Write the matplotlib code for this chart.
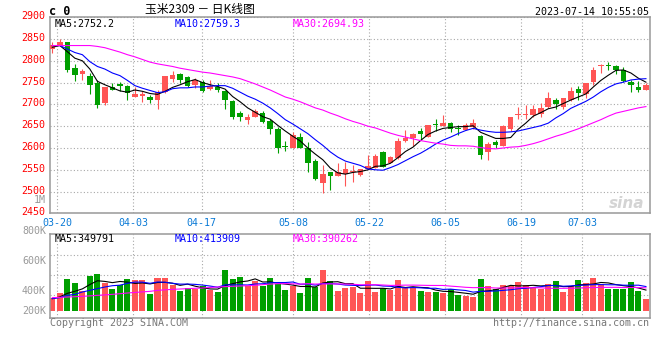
import matplotlib
matplotlib.use('Agg')
import matplotlib.pyplot as plt
import matplotlib.transforms as mtransforms
import numpy as np
import pandas as pd

plt.rcParams['font.family'] = ['DejaVu Sans Mono', 'Noto Sans CJK SC']

# trading days 03-17 .. 07-14 (exchange holidays removed)
holidays = ['2023-04-05', '2023-05-01', '2023-05-02', '2023-05-03', '2023-06-22', '2023-06-23']
days = pd.bdate_range('2023-03-17', '2023-07-14')
days = days[~days.isin(pd.to_datetime(holidays))]
day_labels = [d.strftime('%m-%d') for d in days]

opens = [2827, 2834, 2843, 2784, 2770, 2764, 2749, 2704, 2740, 2746,
         2743, 2717, 2719, 2717, 2710, 2728, 2759, 2770, 2762, 2745,
         2751, 2736, 2739, 2730, 2707, 2681, 2664, 2672, 2681, 2662,
         2643, 2604, 2601, 2626, 2601, 2570, 2520, 2545, 2536, 2540,
         2545, 2537, 2552, 2555, 2590, 2566, 2577, 2616, 2623, 2639,
         2626, 2654, 2651, 2657, 2647, 2642, 2649, 2628, 2590, 2614,
         2605, 2643, 2675, 2676, 2675, 2677, 2695, 2711, 2694, 2709,
         2736, 2724, 2752, 2787, 2790, 2789, 2778, 2751, 2740, 2733]
highs = [2844, 2851, 2843, 2793, 2782, 2772, 2755, 2741, 2749, 2751,
         2745, 2740, 2730, 2721, 2734, 2766, 2776, 2772, 2766, 2761,
         2757, 2755, 2749, 2733, 2711, 2686, 2677, 2690, 2686, 2667,
         2649, 2615, 2636, 2634, 2613, 2575, 2560, 2546, 2566, 2567,
         2560, 2552, 2584, 2586, 2592, 2581, 2623, 2641, 2634, 2645,
         2653, 2666, 2675, 2660, 2652, 2658, 2667, 2630, 2613, 2618,
         2652, 2672, 2695, 2698, 2698, 2704, 2728, 2715, 2715, 2740,
         2743, 2749, 2786, 2793, 2798, 2791, 2786, 2757, 2753, 2749]
lows = [2819, 2833, 2774, 2753, 2757, 2723, 2691, 2699, 2732, 2730,
        2711, 2716, 2706, 2704, 2689, 2727, 2751, 2749, 2739, 2738,
        2728, 2734, 2729, 2690, 2666, 2661, 2655, 2671, 2658, 2632,
        2589, 2594, 2600, 2600, 2546, 2526, 2497, 2503, 2535, 2513,
        2523, 2536, 2551, 2554, 2556, 2565, 2575, 2613, 2605, 2618,
        2625, 2638, 2650, 2636, 2630, 2641, 2643, 2575, 2573, 2601,
        2604, 2639, 2666, 2666, 2670, 2670, 2692, 2689, 2690, 2708,
        2710, 2715, 2745, 2772, 2778, 2770, 2751, 2729, 2728, 2732]
closes = [2836, 2842, 2778, 2767, 2776, 2744, 2698, 2739, 2734, 2742,
          2727, 2723, 2724, 2710, 2729, 2764, 2768, 2755, 2742, 2757,
          2730, 2742, 2734, 2711, 2671, 2671, 2672, 2686, 2660, 2643,
          2601, 2603, 2630, 2601, 2566, 2528, 2541, 2535, 2545, 2551,
          2547, 2551, 2558, 2582, 2556, 2580, 2616, 2624, 2632, 2633,
          2652, 2652, 2657, 2643, 2643, 2652, 2658, 2583, 2609, 2608,
          2651, 2670, 2677, 2677, 2689, 2691, 2715, 2700, 2714, 2730,
          2727, 2748, 2780, 2791, 2789, 2780, 2753, 2745, 2734, 2745]

ma5 = [2831, 2835, 2821, 2806, 2800, 2781, 2753, 2745, 2738, 2731,
       2728, 2733, 2730, 2725, 2723, 2730, 2739, 2745, 2752, 2757,
       2750, 2745, 2741, 2735, 2718, 2706, 2692, 2682, 2672, 2666,
       2652, 2639, 2627, 2616, 2600, 2586, 2573, 2554, 2543, 2540,
       2544, 2546, 2550, 2558, 2559, 2565, 2578, 2592, 2602, 2617,
       2631, 2639, 2645, 2647, 2649, 2649, 2651, 2636, 2629, 2622,
       2622, 2624, 2643, 2657, 2673, 2681, 2690, 2694, 2702, 2710,
       2717, 2724, 2740, 2755, 2767, 2778, 2779, 2772, 2760, 2751]
ma10 = [2835, 2835, 2827, 2819, 2814, 2798, 2787, 2781, 2772, 2766,
        2755, 2743, 2737, 2732, 2727, 2729, 2736, 2738, 2738, 2740,
        2740, 2742, 2743, 2743, 2737, 2728, 2719, 2712, 2703, 2692,
        2679, 2665, 2655, 2644, 2633, 2619, 2606, 2591, 2579, 2570,
        2565, 2560, 2552, 2550, 2549, 2555, 2562, 2571, 2580, 2588,
        2598, 2609, 2618, 2625, 2633, 2640, 2645, 2641, 2638, 2636,
        2636, 2637, 2639, 2643, 2647, 2651, 2657, 2669, 2679, 2691,
        2699, 2707, 2717, 2729, 2739, 2747, 2751, 2756, 2758, 2759]
ma30 = [2835, 2835, 2835, 2835, 2835, 2835, 2833, 2830, 2825, 2820,
        2814, 2809, 2803, 2797, 2793, 2790, 2787, 2783, 2780, 2777,
        2774, 2772, 2769, 2766, 2763, 2759, 2753, 2747, 2740, 2733,
        2725, 2717, 2712, 2706, 2699, 2692, 2687, 2680, 2674, 2667,
        2661, 2656, 2650, 2646, 2640, 2634, 2629, 2625, 2621, 2617,
        2614, 2611, 2609, 2606, 2605, 2605, 2604, 2601, 2599, 2598,
        2600, 2602, 2603, 2606, 2610, 2615, 2621, 2627, 2632, 2638,
        2644, 2651, 2658, 2665, 2673, 2680, 2684, 2688, 2692, 2695]

# volume in thousands
volumes = [227, 306, 538, 476, 334, 595, 629, 482, 368, 436,
           538, 521, 521, 283, 555, 555, 448, 340, 385, 380,
           419, 351, 323, 691, 538, 572, 425, 504, 425, 555,
           453, 351, 419, 306, 555, 408, 691, 504, 334, 385,
           408, 306, 504, 323, 391, 351, 521, 408, 391, 334,
           323, 323, 306, 368, 266, 249, 238, 538, 419, 368,
           436, 419, 487, 436, 408, 380, 453, 504, 323, 419,
           521, 476, 555, 453, 380, 380, 380, 487, 334, 198]
vol_ma5 = [210, 240, 300, 335, 376, 450, 514, 503, 482, 502,
           491, 469, 477, 460, 484, 487, 472, 436, 457, 422,
           394, 375, 372, 433, 464, 495, 510, 546, 493, 496,
           472, 458, 441, 417, 417, 408, 476, 493, 498, 464,
           464, 387, 387, 385, 386, 375, 418, 399, 412, 401,
           395, 356, 335, 331, 317, 302, 285, 332, 342, 362,
           400, 436, 426, 429, 437, 426, 433, 436, 414, 416,
           444, 449, 459, 485, 477, 449, 430, 416, 392, 356]
vol_ma10 = [210, 227, 266, 283, 323, 351, 380, 408, 430, 439,
            470, 492, 490, 471, 493, 489, 471, 457, 458, 453,
            441, 424, 404, 445, 443, 445, 442, 459, 463, 480,
            484, 484, 493, 455, 457, 440, 467, 467, 458, 441,
            436, 432, 440, 442, 425, 420, 403, 393, 399, 394,
            385, 387, 367, 372, 359, 349, 321, 334, 336, 340,
            351, 361, 379, 386, 400, 413, 434, 431, 421, 427,
            435, 441, 448, 449, 446, 446, 439, 437, 439, 416]
vol_ma30 = [227, 232, 238, 243, 249, 257, 266, 274, 283, 294,
            306, 315, 325, 334, 351, 360, 368, 374, 380, 386,
            391, 400, 408, 414, 420, 425, 430, 436, 448, 457,
            465, 466, 462, 457, 464, 458, 460, 461, 460, 458,
            454, 446, 446, 447, 442, 435, 437, 440, 440, 438,
            435, 434, 434, 423, 414, 403, 397, 398, 398, 391,
            391, 393, 395, 400, 395, 394, 386, 386, 386, 387,
            390, 396, 398, 402, 402, 403, 398, 401, 399, 394]

tick_dates = ['03-20', '04-03', '04-17', '05-08', '05-22', '06-05', '06-19', '07-03']
price_legend = ['MA5:2752.2', 'MA10:2759.3', 'MA30:2694.93']
vol_legend = ['MA5:349791', 'MA10:413909', 'MA30:390262']
vol_axis_labels = ['800K', '600K', '400K', '200K']

RED = '#ff5555'
GREEN = '#009f00'
GRID = '#a8a8a8'
FRAME = '#999999'
W, H = 660, 360

fig = plt.figure(figsize=(W / 100, H / 100), dpi=100)


def rect(l, t, r, b):
    return [l / W, 1 - b / H, (r - l) / W, (b - t) / H]


def ftext(x, y, s, **kw):
    kw.setdefault('va', 'center')
    kw.setdefault('fontsize', 7.2)
    fig.text(x / W, 1 - y / H, s, **kw)


n = len(closes)
x = np.arange(n)
o = np.array(opens)
c = np.array(closes)
colors = [RED if cc >= oo else GREEN for oo, cc in zip(o, c)]
# Sina grid lines are spaced slightly wider than the candles
tick_idx = [day_labels.index(d) for d in tick_dates]
grid_pos = [i * n / (n - 1) - 0.35 for i in tick_idx]
xlim = (-0.24, 79.54)

# ---- price panel
ax = fig.add_axes(rect(50.5, 17.2, 650, 213.4))
ax.set_xlim(*xlim)
ax.set_ylim(2450, 2900)
for gx in grid_pos:
    ax.axvline(gx, color=GRID, lw=0.8, linestyle=(0, (1, 2)), zorder=0)
ax.set_yticks(np.arange(2450, 2901, 50))
ax.yaxis.grid(True, color=GRID, lw=0.8, linestyle=(0, (1, 2)), zorder=0)
ax.set_axisbelow(True)
ax.vlines(x, lows, highs, color=colors, lw=0.8, zorder=2)
ax.bar(x, np.maximum(np.abs(c - o), 2.2), bottom=np.minimum(o, c), width=0.74,
       color=colors, linewidth=0, zorder=3)
ax.plot(x, ma5, color='black', lw=0.8, zorder=4)
ax.plot(x, ma10, color='#0000ff', lw=0.8, zorder=4)
ax.plot(x, ma30, color='#ff00ff', lw=0.8, zorder=4)

ax.set_xticks(grid_pos)
ax.set_xticklabels(tick_dates)
ax.tick_params(axis='x', length=0, pad=3, labelsize=7.2, labelcolor='#0a7ad6')
ax.tick_params(axis='y', length=0, pad=4, labelsize=7.2, labelcolor='#ff0000')
shift = mtransforms.ScaledTranslation(0, 2 / 100, fig.dpi_scale_trans)
for lab in ax.get_yticklabels():
    lab.set_transform(lab.get_transform() + shift)
for sp in ax.spines.values():
    sp.set_color(FRAME)
    sp.set_linewidth(1.1)

for txt, col, lx in zip(price_legend, ['black', '#0000ff', '#ff00ff'], [55, 175, 293]):
    ftext(lx, 24, txt, color=col, ha='left')

# ---- volume panel
axv = fig.add_axes(rect(50.5, 234, 650, 318))
axv.set_xlim(*xlim)
axv.set_ylim(-119, 1309)
for gx in grid_pos:
    axv.axvline(gx, color=GRID, lw=0.8, linestyle=(0, (1, 2)), zorder=0)
for gy in [272, 612, 952]:
    axv.axhline(gy, color=GRID, lw=0.8, linestyle=(0, (1, 2)), zorder=0)
axv.bar(x, volumes, width=0.8, color=colors, linewidth=0, zorder=2)
axv.plot(x, vol_ma5, color='black', lw=0.8, zorder=3)
axv.plot(x, vol_ma10, color='#0000ff', lw=0.8, zorder=3)
axv.plot(x, vol_ma30, color='#ff00ff', lw=0.8, zorder=3)
axv.set_xticks([])
axv.set_yticks([])
for sp in axv.spines.values():
    sp.set_color(FRAME)
    sp.set_linewidth(1.1)

for txt, col, lx in zip(vol_legend, ['black', '#0000ff', '#ff00ff'], [55, 175, 293]):
    ftext(lx, 238.5, txt, color=col, ha='left')
for txt, ly in zip(vol_axis_labels, [231, 261, 291, 311]):
    ftext(46, ly, txt, color='#999999', ha='right')
ftext(46, 200, '1M', color='#999999', ha='right')

# ---- header / footer
ftext(49, 11.5, 'c 0', color='black', ha='left', fontsize=8.5, weight='bold')
ftext(200, 9, '玉米2309 － 日K线图', color='black', ha='center', fontsize=8.5,
      family=['Noto Sans CJK SC', 'DejaVu Sans'])
ftext(649, 11.7, '2023-07-14 10:55:05', color='black', ha='right')
ftext(50, 323.5, 'Copyright 2023 SINA.COM', color='#777777', ha='left')
ftext(649, 323.5, 'http://finance.sina.com.cn', color='#777777', ha='right')
ftext(627, 203, 'sina', color='#d4d4d4', ha='center', fontsize=11,
      style='italic', weight='bold', family='DejaVu Sans')

fig.savefig('out.png', dpi=100)
